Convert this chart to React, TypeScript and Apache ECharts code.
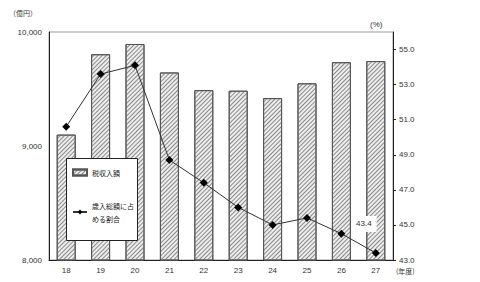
import React, { useEffect, useRef } from "react";
import * as echarts from "echarts";

const categories = ["18", "19", "20", "21", "22", "23", "24", "25", "26", "27"];
const taxRevenue = [9100, 9805, 9895, 9645, 9490, 9485, 9420, 9550, 9735, 9745];
const shareOfTotal = [50.6, 53.6, 54.1, 48.7, 47.4, 46.0, 45.0, 45.4, 44.5, 43.4];
const leftTicks = [8000, 9000, 10000];
const rightTicks = [43, 45, 47, 49, 51, 53, 55];
const barName = "税収入額";
const lineName = "歳入総額に占\nめる割合";

const numFont = "Liberation Sans, Arial, sans-serif";
const jpFont = "Noto Sans CJK JP, sans-serif";

export default function App() {
  const ref = useRef<HTMLDivElement>(null);
  useEffect(() => {
    if (!ref.current) return;
    const chart = echarts.init(ref.current, null, { renderer: "svg" });
    const lineData = shareOfTotal.map((v, i) =>
      i === shareOfTotal.length - 1
        ? {
            value: v,
            label: {
              show: true,
              position: "top",
              offset: [-12, -12],
              formatter: (p: any) => Number(p.value).toFixed(1),
              backgroundColor: "#fff",
              padding: [4, 5],
              fontSize: 8,
              fontFamily: numFont,
              color: "#333",
            },
          }
        : v
    );
    chart.setOption({
      animation: false,
      backgroundColor: "#fff",
      grid: {
        left: 49,
        right: 87,
        top: 32,
        bottom: 22,
        show: true,
        borderColor: "#999",
        borderWidth: 1,
      },
      legend: {
        left: 66,
        top: 166,
        orient: "vertical",
        itemGap: 20,
        itemWidth: 14,
        itemHeight: 6,
        padding: [0, 0, 0, 6],
        z: 100,
        textStyle: { fontSize: 7, fontFamily: jpFont, color: "#222", lineHeight: 13 },
        data: [
          { name: barName, icon: "rect" },
          { name: lineName },
        ],
      },
      graphic: [
        {
          type: "rect",
          z: 50,
          shape: { x: 66.5, y: 158.5, width: 71, height: 82 },
          style: { fill: "#fff", stroke: "#222", lineWidth: 1 },
        },
        {
          type: "text",
          x: 9,
          y: 9,
          style: { text: "（億円）", fontSize: 7, fontFamily: jpFont, fill: "#333" },
        },
        {
          type: "text",
          x: 370,
          y: 20,
          style: { text: "(%)", fontSize: 8, fontFamily: numFont, fill: "#333" },
        },
        {
          type: "text",
          x: 396,
          y: 267,
          style: { text: "(年度)", fontSize: 7, fontFamily: jpFont, fill: "#333" },
        },
      ],
      xAxis: {
        type: "category",
        data: categories,
        axisLine: { lineStyle: { color: "#222" } },
        axisTick: { show: false },
        axisLabel: { fontSize: 8, fontFamily: numFont, color: "#333", margin: 6 },
      },
      yAxis: [
        {
          type: "value",
          min: 8000,
          max: 10000,
          interval: 1000,
          axisLine: { show: true, lineStyle: { color: "#222" } },
          axisTick: { show: false },
          splitLine: { show: false },
          axisLabel: {
            fontSize: 8,
            fontFamily: numFont,
            color: "#333",
            margin: 7,
            customValues: leftTicks,
            formatter: (v: number) => v.toLocaleString("en-US"),
          },
        },
        {
          type: "value",
          min: 43,
          max: 56,
          position: "right",
          axisLine: { show: true, lineStyle: { color: "#222" } },
          axisTick: { show: true, customValues: rightTicks, length: 3, lineStyle: { color: "#222" } },
          splitLine: { show: false },
          axisLabel: {
            fontSize: 8,
            fontFamily: numFont,
            color: "#333",
            margin: 6,
            customValues: rightTicks,
            formatter: (v: number) => v.toFixed(1),
          },
        },
      ],
      series: [
        {
          name: barName,
          type: "bar",
          yAxisIndex: 0,
          data: taxRevenue,
          barWidth: 19,
          itemStyle: {
            color: "#ededed",
            borderColor: "#555",
            borderWidth: 1,
            decal: {
              symbol: "rect",
              symbolSize: 1,
              dashArrayX: [1, 0],
              dashArrayY: [1, 1.6],
              rotation: -Math.PI / 4,
              color: "#8a8a8a",
            },
          },
        },
        {
          name: lineName,
          type: "line",
          yAxisIndex: 1,
          data: lineData,
          symbol: "diamond",
          symbolSize: 8,
          z: 5,
          lineStyle: { color: "#333", width: 1 },
          itemStyle: { color: "#000" },
        },
      ],
    });
    return () => chart.dispose();
  }, []);
  return <div ref={ref} style={{ width: 480, height: 282, position: "fixed", left: 0, top: 0 }} />;
}
